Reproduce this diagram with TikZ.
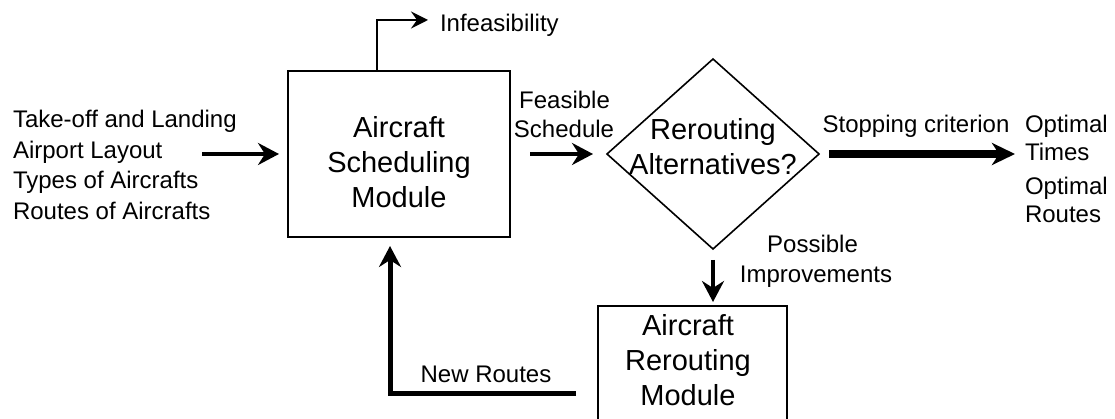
\documentclass[tikz,border=0pt]{standalone}
\usepackage{fontspec}
\setmainfont{Liberation Sans}
\usetikzlibrary{arrows.meta,shapes.geometric}

\tikzset{
  lbl/.style={inner sep=0pt, outer sep=0pt, font=\fontsize{24}{30.5}\selectfont},
  boxtext/.style={inner sep=0pt, outer sep=0pt, align=center, font=\fontsize{29}{35}\selectfont},
  modbox/.style={draw, line width=2pt, inner sep=0pt, outer sep=0pt},
  decbox/.style={draw, shape=diamond, line width=1.6pt, inner sep=0pt, outer sep=0pt,
    minimum width=212pt, minimum height=190pt},
  bigtip/.style={-{Stealth[length=21pt, width=22pt, inset=7pt]}},
  flowarr/.style={bigtip, line width=4.5pt},
  stoparr/.style={-{Stealth[length=23pt, width=22pt, inset=7pt]}, line width=8pt},
  thinarr/.style={-{Stealth[length=17pt, width=17pt, inset=6pt]}, line width=2pt},
}

\begin{document}
\begin{tikzpicture}[x=1pt, y=-1pt]
\useasboundingbox (0,0) rectangle (1115,419);

% modules and decision
\node[modbox, minimum width=222pt, minimum height=166pt] (sched) at (399,154) {};
\node[boxtext] (schedtext) at (399,162.4) {Aircraft\\Scheduling\\Module};

\node[decbox] (dec) at (713,154) {};
\node[boxtext] (dectext) at (713,147) {Rerouting\\Alternatives?};

\node[modbox, minimum width=189pt, minimum height=115pt] (rer) at (692.5,363.5) {};
\node[boxtext] (rertext) at (688,360) {Aircraft\\Rerouting\\Module};

% inputs
\node[lbl, anchor=base west] (in1) at (13,128) {Take-off and Landing};
\node[lbl, anchor=base west] (in2) at (13,158.5) {Airport Layout};
\node[lbl, anchor=base west] (in3) at (13,189) {Types of Aircrafts};
\node[lbl, anchor=base west] (in4) at (13,219.5) {Routes of Aircrafts};

% outputs
\node[lbl, anchor=base west] (opt1) at (1025,133) {Optimal};
\node[lbl, anchor=base west] (times) at (1025,161) {Times};
\node[lbl, anchor=base west] (opt2) at (1025,195) {Optimal};
\node[lbl, anchor=base west] (routes) at (1025,223) {Routes};

% edge labels
\node[lbl, anchor=base west] (infeas) at (440,32) {Infeasibility};
\node[lbl, anchor=base] (feas1) at (564.5,109) {Feasible};
\node[lbl, anchor=base] (feas2) at (564,138) {Schedule};
\node[lbl, anchor=base] (stop) at (916,133) {Stopping criterion};
\node[lbl, anchor=base] (poss1) at (812.5,253) {Possible};
\node[lbl, anchor=base] (poss2) at (816,283) {Improvements};
\node[lbl, anchor=base] (newr) at (486,382) {New Routes};

% free ends
\coordinate (inp) at (202,154);
\coordinate (infend) at (428,20);
\coordinate (back) at (576,393);

% connectors
\draw[flowarr, shorten >=9pt] (inp) -- (sched.west);
\draw[thinarr] ([xshift=-22pt]sched.north) |- (infend);
\draw[flowarr] ([xshift=20pt]sched.east) -- ([xshift=-14pt]dec.west);
\draw[stoparr] ([xshift=10pt]dec.east) -- ([xshift=-10pt]dec.east -| times.west);
\draw[flowarr, line width=4pt] ([yshift=-11pt]dec.south) -- ([yshift=4pt]dec.south |- rer.north);
\draw[flowarr, line width=5pt] (back) -| ([xshift=-9pt,yshift=-9pt]sched.south);
\end{tikzpicture}
\end{document}
